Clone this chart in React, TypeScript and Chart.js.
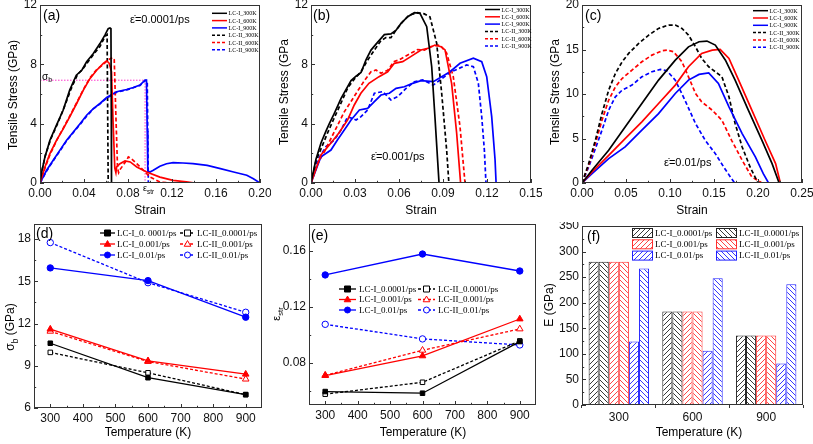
import React, { useEffect, useRef } from 'react';
import { Chart, registerables } from 'chart.js';
Chart.register(...registerables);

type P = [number, number];

// ---------- (a) strain rate 0.0001/ps : [strain, stress GPa]
const a_LCI_300K: P[] = [[0,0],[0.0015,0.74],[0.0045,1.76],[0.009,2.88],[0.015,3.9],[0.021,4.9],[0.027,6.26],[0.033,7.27],[0.038,7.6],[0.0424,8.17],[0.0485,8.73],[0.0545,9.4],[0.059,9.97],[0.062,10.4],[0.0636,10.45],[0.0645,10.4],[0.0648,5],[0.065,0]];
const a_LCI_600K: P[] = [[0,0],[0.0045,1.08],[0.009,1.98],[0.015,2.88],[0.0212,3.67],[0.027,4.46],[0.0333,5.36],[0.0394,6.26],[0.0455,7.05],[0.0515,7.6],[0.0576,8.06],[0.0606,8.24],[0.063,8.06],[0.065,7.5],[0.0665,4],[0.068,1.0],[0.069,0.7],[0.0697,1.08],[0.0727,1.3],[0.0773,1.49],[0.082,1.42],[0.088,1.08],[0.097,0.74],[0.109,0.4],[0.121,0.18],[0.133,0.07],[0.141,0]];
const a_LCI_900K: P[] = [[0,0],[0.006,0.86],[0.012,1.53],[0.018,2.2],[0.0242,2.88],[0.0303,3.44],[0.0364,4.0],[0.0424,4.57],[0.0485,5.02],[0.0545,5.36],[0.0606,5.76],[0.0697,6.15],[0.0788,6.3],[0.0848,6.44],[0.0909,6.6],[0.0955,6.93],[0.0968,6.93],[0.0975,3.5],[0.098,0.8],[0.1,0.74],[0.103,0.86],[0.109,1.13],[0.115,1.3],[0.121,1.37],[0.13,1.35],[0.139,1.3],[0.152,1.19],[0.164,0.97],[0.176,0.74],[0.188,0.52],[0.194,0.29],[0.2,0]];
const a_LCII_300K: P[] = [[0,0],[0.002,0.9],[0.005,1.9],[0.01,3.0],[0.016,4.0],[0.022,5.1],[0.028,6.3],[0.034,7.3],[0.039,7.7],[0.044,8.2],[0.049,8.7],[0.0545,9.2],[0.059,9.86],[0.061,10.0],[0.0615,5],[0.062,0]];
const a_LCII_600K: P[] = [[0,0],[0.0045,1.0],[0.009,1.9],[0.015,2.85],[0.0212,3.7],[0.027,4.5],[0.0333,5.4],[0.0394,6.3],[0.0455,7.1],[0.0515,7.65],[0.0576,8.0],[0.062,8.3],[0.066,8.46],[0.0675,8.3],[0.069,4.5],[0.0705,1.0],[0.0715,0.7],[0.0727,0.9],[0.0788,1.53],[0.0803,1.76],[0.083,1.64],[0.088,1.3],[0.094,0.86],[0.1,0.4],[0.109,0.07],[0.118,0]];
const a_LCII_900K: P[] = [[0,0],[0.006,0.8],[0.012,1.5],[0.018,2.15],[0.0242,2.85],[0.0303,3.4],[0.0364,3.95],[0.0424,4.5],[0.0485,5.0],[0.0545,5.33],[0.0606,5.73],[0.0697,6.12],[0.0788,6.28],[0.0848,6.42],[0.0909,6.58],[0.0955,6.9],[0.0975,6.9],[0.098,3],[0.0985,0]];
const a_sigmaB = 6.93;
const a_epsStr = 0.0955;

// ---------- (b) strain rate 0.001/ps
const b_LCI_300K: P[] = [[0,0],[0.0034,1.6],[0.0068,2.7],[0.0102,3.5],[0.0125,4.0],[0.0159,4.7],[0.0205,5.7],[0.0273,6.9],[0.0307,7.2],[0.0341,7.45],[0.0375,8.3],[0.0409,8.96],[0.0455,9.5],[0.05,10.0],[0.0545,10.05],[0.058,10.3],[0.0614,10.76],[0.0659,11.21],[0.0705,11.48],[0.0743,11.44],[0.0789,10.54],[0.0823,7.84],[0.0845,4.47],[0.0873,0]];
const b_LCI_600K: P[] = [[0,0],[0.0068,1.89],[0.0136,2.7],[0.019,3.37],[0.025,4.25],[0.0295,5.26],[0.034,6.05],[0.0395,6.72],[0.0464,7.17],[0.0523,7.5],[0.0568,8.07],[0.0625,8.18],[0.068,8.52],[0.075,8.97],[0.0805,9.1],[0.0845,9.3],[0.0886,9.19],[0.0914,8.97],[0.0959,6.7],[0.0993,3.37],[0.102,0]];
const b_LCI_900K: P[] = [[0,0],[0.0034,0.9],[0.0068,1.77],[0.0136,2.22],[0.018,2.9],[0.0227,3.57],[0.0273,4.25],[0.033,4.92],[0.0386,5.03],[0.0432,5.48],[0.0477,5.93],[0.0534,6.05],[0.058,6.38],[0.0636,6.49],[0.0693,6.72],[0.075,6.9],[0.0834,6.83],[0.0948,7.5],[0.1016,8.07],[0.1107,8.41],[0.1164,8.18],[0.1198,7.17],[0.1232,4.47],[0.1255,1.55],[0.1262,0]];
const b_LCII_300K: P[] = [[0,0],[0.0034,1.5],[0.0068,2.3],[0.0114,3.4],[0.0159,4.4],[0.0205,5.4],[0.025,6.4],[0.0295,7.0],[0.0341,7.5],[0.0386,8.28],[0.0432,8.96],[0.0477,9.6],[0.0511,9.8],[0.0545,9.8],[0.058,10.31],[0.0625,10.87],[0.067,11.32],[0.0727,11.48],[0.0773,11.4],[0.0811,11.2],[0.0857,9.42],[0.0891,6.05],[0.0925,2.2],[0.094,0]];
const b_LCII_600K: P[] = [[0,0],[0.0045,1.3],[0.0091,2.1],[0.0136,3.0],[0.0182,3.9],[0.0227,4.8],[0.0273,5.5],[0.0318,6.2],[0.0364,6.9],[0.0409,7.5],[0.0443,7.62],[0.0477,7.4],[0.0523,7.6],[0.0568,8.2],[0.06,8.3],[0.0682,8.75],[0.0727,9.0],[0.0773,8.96],[0.0818,9.2],[0.088,9.3],[0.0925,8.76],[0.097,7.17],[0.1016,3.8],[0.105,0]];
const b_LCII_900K: P[] = [[0,0],[0.0045,1.55],[0.0102,2.45],[0.0159,2.9],[0.0205,3.57],[0.025,4.47],[0.0307,4.25],[0.0341,4.47],[0.0386,4.92],[0.0432,6.05],[0.0489,6.16],[0.0545,5.6],[0.0591,5.82],[0.0648,6.38],[0.0705,6.83],[0.0761,6.95],[0.0834,6.6],[0.0948,7.45],[0.1061,7.96],[0.1107,7.84],[0.1141,6.72],[0.1164,4.47],[0.1182,2.22],[0.1193,0]];

// ---------- (c) strain rate 0.01/ps
const c_LCI_300K: P[] = [[0,0],[0.0114,1.43],[0.0303,3.68],[0.049,6.3],[0.068,8.93],[0.087,11.56],[0.106,13.8],[0.121,15.3],[0.133,15.87],[0.142,15.95],[0.1515,15.5],[0.163,13.8],[0.174,11.56],[0.189,8.18],[0.2045,4.8],[0.216,2.18],[0.224,0]];
const c_LCI_600K: P[] = [[0,0],[0.0114,1.24],[0.0303,3.1],[0.049,4.99],[0.068,6.87],[0.087,8.93],[0.106,11.0],[0.121,13.06],[0.136,14.56],[0.148,14.93],[0.157,15.0],[0.167,14.0],[0.178,11.56],[0.193,8.18],[0.208,4.8],[0.22,2.18],[0.2254,0]];
const c_LCI_900K: P[] = [[0,0],[0.0114,1.05],[0.0303,2.74],[0.049,4.05],[0.068,5.93],[0.087,7.8],[0.106,10.06],[0.121,11.56],[0.133,12.2],[0.144,12.38],[0.155,11.18],[0.167,8.56],[0.182,5.55],[0.197,2.93],[0.206,1.05],[0.212,0]];
const c_LCII_300K: P[] = [[0,0],[0.0076,2.18],[0.0152,4.8],[0.0227,7.8],[0.0303,10.43],[0.0379,12.3],[0.0455,13.6],[0.053,14.56],[0.0644,15.68],[0.0758,16.62],[0.087,17.37],[0.0985,17.75],[0.106,17.75],[0.1136,17.37],[0.121,16.62],[0.129,15.3],[0.136,14.0],[0.144,13.06],[0.1515,12.5],[0.159,11.93],[0.167,9.68],[0.174,6.68],[0.182,4.05],[0.191,1.8],[0.2,0]];
const c_LCII_600K: P[] = [[0,0],[0.0076,2.0],[0.0152,4.43],[0.0227,7.05],[0.0303,9.3],[0.0379,10.8],[0.0455,11.74],[0.0568,12.68],[0.068,13.62],[0.0795,14.37],[0.091,14.86],[0.0966,14.93],[0.104,14.75],[0.1136,13.62],[0.121,11.93],[0.129,10.06],[0.136,9.12],[0.148,8.18],[0.159,7.05],[0.17,4.8],[0.182,2.55],[0.193,0.68],[0.2045,0]];
const c_LCII_900K: P[] = [[0,0],[0.0076,1.8],[0.0152,3.86],[0.0227,5.93],[0.0303,8.18],[0.0379,9.68],[0.0455,10.43],[0.0568,11.0],[0.068,11.93],[0.0795,12.5],[0.089,12.76],[0.0966,12.6],[0.106,11.56],[0.117,9.3],[0.129,6.68],[0.14,4.8],[0.1515,3.3],[0.161,1.8],[0.1686,0.68],[0.1735,0]];

// ---------- (d) sigma_b vs temperature
const temperatures = [300, 600, 900];
const sigB_LCI_00001 = [10.6, 8.15, 6.95];
const sigB_LCII_00001 = [9.95, 8.5, 6.95];
const sigB_LCI_0001 = [11.6, 9.35, 8.4];
const sigB_LCII_0001 = [11.45, 9.3, 8.05];
const sigB_LCI_001 = [15.95, 15.05, 12.45];
const sigB_LCII_001 = [17.75, 14.9, 12.8];

// ---------- (e) eps_str vs temperature
const eps_LCI_00001 = [0.0596, 0.0584, 0.0952];
const eps_LCII_00001 = [0.0577, 0.0662, 0.0957];
const eps_LCI_0001 = [0.071, 0.085, 0.1113];
const eps_LCII_0001 = [0.0712, 0.089, 0.1042];
const eps_LCI_001 = [0.1427, 0.1576, 0.1455];
const eps_LCII_001 = [0.1075, 0.0971, 0.0928];

// ---------- (f) E vs temperature
const E_categories = ['300', '600', '900'];
const E_LCI_00001 = [280, 183, 136];
const E_LCII_00001 = [280, 183, 136];
const E_LCI_0001 = [280, 183, 136];
const E_LCII_0001 = [280, 183, 136];
const E_LCI_001 = [124, 106, 81];
const E_LCII_001 = [267, 248, 236];

// tick values
const ticksA_x = [0, 0.04, 0.08, 0.12, 0.16, 0.2];
const ticksB_x = [0, 0.03, 0.06, 0.09, 0.12, 0.15];
const ticksC_x = [0, 0.05, 0.1, 0.15, 0.2, 0.25];
const ticksAB_y = [0, 4, 8, 12];
const ticksC_y = [0, 5, 10, 15, 20];
const ticksT = [300, 400, 500, 600, 700, 800, 900];
const ticksD_y = [6, 9, 12, 15, 18];
const ticksE_y = [0.08, 0.12, 0.16];
const ticksF_y = [0, 50, 100, 150, 200, 250, 300, 350];

const curveLabels = ['LC-I_300K', 'LC-I_600K', 'LC-I_900K', 'LC-II_300K', 'LC-II_600K', 'LC-II_900K'];
const rateLabelsD = ['LC-I_0. 0001/ps', 'LC-II_0.0001/ps', 'LC-I_0.001/ps', 'LC-II_0.001/ps', 'LC-I_0.01/ps', 'LC-II_0.01/ps'];
const rateLabels = ['LC-I_0.0001/ps', 'LC-II_0.0001/ps', 'LC-I_0.001/ps', 'LC-II_0.001/ps', 'LC-I_0.01/ps', 'LC-II_0.01/ps'];

const BLACK = '#000000';
const RED = '#ff0000';
const BLUE = '#0000ff';
const SANS = '"Liberation Sans", Arial, sans-serif';
const SERIF = '"Liberation Serif", "Times New Roman", serif';
const W = 271;
const H = 222;
const DASH = [4, 2.5];
const TICK_FONT = 12;

function txt(ctx: CanvasRenderingContext2D, s: string, x: number, y: number, size: number, o: any = {}) {
  ctx.save();
  ctx.font = `${size}px ${o.family || SANS}`;
  ctx.fillStyle = o.color || '#000';
  ctx.textAlign = o.align || 'left';
  ctx.textBaseline = 'middle';
  ctx.translate(x, y);
  if (o.rotate) ctx.rotate(o.rotate);
  ctx.fillText(s, 0, 0);
  ctx.restore();
}

function rich(ctx: CanvasRenderingContext2D, segs: { t: string; sub?: boolean }[], x: number, y: number, size: number, rotate = 0, align = 'center') {
  ctx.save();
  ctx.translate(x, y);
  ctx.rotate(rotate);
  const sub = size * 0.7;
  let total = 0;
  const ws = segs.map((s) => {
    ctx.font = `${s.sub ? sub : size}px ${SANS}`;
    const w = ctx.measureText(s.t).width;
    total += w;
    return w;
  });
  let cx = align === 'center' ? -total / 2 : 0;
  ctx.textAlign = 'left';
  ctx.textBaseline = 'alphabetic';
  ctx.fillStyle = '#000';
  segs.forEach((s, i) => {
    ctx.font = `${s.sub ? sub : size}px ${SANS}`;
    ctx.fillText(s.t, cx, size * 0.36 + (s.sub ? size * 0.28 : 0));
    cx += ws[i];
  });
  ctx.restore();
}

function innerTicks(ctx: CanvasRenderingContext2D, scale: any, horizontal: boolean, a: any) {
  const vals: number[] = scale.ticks.map((t: any) => t.value);
  const marks: [number, number][] = [];
  vals.forEach((v) => marks.push([v, 4]));
  for (let i = 0; i < vals.length - 1; i++) marks.push([(vals[i] + vals[i + 1]) / 2, 2.2]);
  if (vals.length > 1) {
    const step = vals[1] - vals[0];
    const lo = vals[0] - step / 2;
    const hi = vals[vals.length - 1] + step / 2;
    if (lo > scale.min) marks.push([lo, 2.2]);
    if (hi < scale.max) marks.push([hi, 2.2]);
  }
  ctx.beginPath();
  marks.forEach(([v, len]) => {
    const p = Math.round(scale.getPixelForValue(v)) + 0.5;
    if (horizontal) {
      ctx.moveTo(p, a.bottom);
      ctx.lineTo(p, a.bottom - len);
    } else {
      ctx.moveTo(a.left, p);
      ctx.lineTo(a.left + len, p);
    }
  });
  ctx.stroke();
}

function frame(chart: any, xInner = true) {
  const { ctx, chartArea: a } = chart;
  ctx.save();
  ctx.strokeStyle = '#333';
  ctx.lineWidth = 1;
  ctx.strokeRect(Math.round(a.left) + 0.5, Math.round(a.top) + 0.5, Math.round(a.right - a.left) - 1, Math.round(a.bottom - a.top) - 1);
  if (xInner) innerTicks(ctx, chart.scales.x, true, a);
  innerTicks(ctx, chart.scales.y, false, a);
  ctx.restore();
}

function marker(ctx: CanvasRenderingContext2D, style: string, x: number, y: number, r: number, color: string, filled: boolean) {
  ctx.save();
  ctx.beginPath();
  if (style === 'rect') ctx.rect(x - r, y - r, 2 * r, 2 * r);
  else if (style === 'triangle') {
    ctx.moveTo(x, y - r * 1.15);
    ctx.lineTo(x + r * 1.1, y + r * 0.75);
    ctx.lineTo(x - r * 1.1, y + r * 0.75);
    ctx.closePath();
  } else ctx.arc(x, y, r, 0, Math.PI * 2);
  ctx.fillStyle = filled ? color : '#fff';
  ctx.fill();
  ctx.strokeStyle = color;
  ctx.lineWidth = 1;
  ctx.stroke();
  ctx.restore();
}

type LegItem = { label: string; color: string; dash?: number[]; marker?: string; filled?: boolean; pattern?: any };
function legend(ctx: CanvasRenderingContext2D, items: LegItem[], o: { x: number; y: number; cols: number; colW: number; rowH: number; sample: number; gap: number; size: number; lw?: number }) {
  items.forEach((it, i) => {
    const col = i % o.cols;
    const row = Math.floor(i / o.cols);
    const x = o.x + col * o.colW;
    const y = o.y + row * o.rowH;
    ctx.save();
    if (it.pattern) {
      ctx.fillStyle = it.pattern;
      ctx.fillRect(x, y - 4.5, o.sample, 9);
      ctx.strokeStyle = it.color;
      ctx.lineWidth = 1;
      ctx.strokeRect(x + 0.5, y - 4.5, o.sample, 9);
    } else {
      ctx.strokeStyle = it.color;
      ctx.lineWidth = o.lw || 1.5;
      ctx.setLineDash(it.dash || []);
      ctx.beginPath();
      ctx.moveTo(x, y);
      ctx.lineTo(x + o.sample, y);
      ctx.stroke();
      ctx.setLineDash([]);
      if (it.marker) marker(ctx, it.marker, x + o.sample / 2, y, 3, it.color, !!it.filled);
    }
    ctx.restore();
    txt(ctx, it.label, x + o.sample + o.gap, y + 0.5, o.size, { family: SERIF });
  });
}

function linScale(min: number, max: number, ticks: number[], dec: number, fit: (s: any) => void) {
  return {
    type: 'linear',
    min,
    max,
    afterBuildTicks: (s: any) => {
      s.ticks = ticks.map((v) => ({ value: v }));
    },
    ticks: { font: { family: SANS, size: TICK_FONT }, color: '#111', padding: 3, maxRotation: 0, autoSkip: false, callback: (v: any) => Number(v).toFixed(dec) },
    grid: { display: false, drawOnChartArea: false, drawTicks: false },
    border: { display: false },
    title: { display: false },
    afterFit: fit,
  };
}

function fitY(w: number) {
  return (s: any) => {
    s.width = w;
    s.paddingTop = 0;
    s.paddingBottom = 0;
  };
}
function fitX(h: number) {
  return (s: any) => {
    s.height = h;
    s.paddingLeft = 0;
    s.paddingRight = 0;
  };
}

function strainChart(series: P[][], xMax: number, xTicks: number[], yMax: number, yTicks: number[], extra: (chart: any) => void, legendY: number, legendX: number): any {
  const colors = [BLACK, RED, BLUE, BLACK, RED, BLUE];
  const datasets: any[] = series.map((s, i) => ({
    label: curveLabels[i],
    data: s.map(([x, y]) => ({ x, y })),
    borderColor: colors[i],
    borderWidth: 1.7,
    borderDash: i >= 3 ? DASH : [],
    pointRadius: 0,
    tension: 0,
    fill: false,
  }));
  return {
    type: 'line',
    data: { datasets },
    options: {
      animation: false,
      responsive: false,
      events: [],
      layout: { autoPadding: false, padding: { left: 0, top: 5, right: 11, bottom: 0 } },
      plugins: { legend: { display: false }, tooltip: { enabled: false } },
      scales: {
        x: linScale(0, xMax, xTicks, 2, fitX(39)),
        y: linScale(0, yMax, yTicks, 0, fitY(40)),
      },
    },
    plugins: [
      {
        id: 'deco',
        afterDraw: (chart: any) => {
          const ctx = chart.ctx;
          frame(chart);
          txt(ctx, 'Strain', 150, 211, 12, { align: 'center' });
          extra(chart);
          legend(
            ctx,
            curveLabels.map((l, i) => ({ label: l, color: colors[i], dash: i >= 3 ? [3, 2] : [] })),
            { x: legendX, y: legendY, cols: 1, colW: 0, rowH: 7.3, sample: 15, gap: 1.5, size: 6 }
          );
        },
      },
    ],
  };
}

function makeHatch(color: string, dir: number): any {
  const s = 5;
  const c = document.createElement('canvas');
  c.width = s;
  c.height = s;
  const g = c.getContext('2d')!;
  g.fillStyle = '#fff';
  g.fillRect(0, 0, s, s);
  g.strokeStyle = color;
  g.lineWidth = 0.9;
  g.beginPath();
  if (dir > 0) {
    g.moveTo(-1, s + 1); g.lineTo(s + 1, -1);
    g.moveTo(-1, 1); g.lineTo(1, -1);
    g.moveTo(s - 1, s + 1); g.lineTo(s + 1, s - 1);
  } else {
    g.moveTo(-1, -1); g.lineTo(s + 1, s + 1);
    g.moveTo(-1, s - 1); g.lineTo(1, s + 1);
    g.moveTo(s - 1, -1); g.lineTo(s + 1, 1);
  }
  g.stroke();
  return g.createPattern(c, 'repeat');
}

function tempChart(sets: number[][], yMin: number, yMax: number, yTicks: number[], dec: number, labels: string[], extra: (chart: any) => void, leg: any, fitLeft: number, padTop: number, padRight: number, xh: number): any {
  const colors = [BLACK, BLACK, RED, RED, BLUE, BLUE];
  const styles = ['rect', 'rect', 'triangle', 'triangle', 'circle', 'circle'];
  const datasets: any[] = sets.map((s, i) => ({
    label: labels[i],
    data: s.map((v, j) => ({ x: temperatures[j], y: v })),
    borderColor: colors[i],
    backgroundColor: i % 2 === 0 ? colors[i] : '#ffffff',
    borderWidth: 1.3,
    borderDash: i % 2 === 1 ? [3, 2] : [],
    pointStyle: styles[i],
    pointRadius: styles[i] === 'triangle' ? 3.8 : 3.2,
    pointBorderWidth: 1,
    pointBackgroundColor: i % 2 === 0 ? colors[i] : '#ffffff',
    pointBorderColor: colors[i],
    tension: 0,
    fill: false,
  }));
  return {
    type: 'line',
    data: { datasets },
    options: {
      animation: false,
      responsive: false,
      events: [],
      layout: { autoPadding: false, padding: { left: 0, top: padTop, right: padRight, bottom: 0 } },
      plugins: { legend: { display: false }, tooltip: { enabled: false } },
      scales: {
        x: linScale(250, 950, ticksT, 0, fitX(xh)),
        y: linScale(yMin, yMax, yTicks, dec, fitY(fitLeft)),
      },
    },
    plugins: [
      {
        id: 'deco',
        afterDraw: (chart: any) => {
          const ctx = chart.ctx;
          frame(chart);
          extra(chart);
          legend(
            ctx,
            labels.map((l, i) => ({ label: l, color: colors[i], dash: i % 2 === 1 ? [3, 2] : [], marker: styles[i], filled: i % 2 === 0 })),
            leg
          );
        },
      },
    ],
  };
}

function Panel({ left, top, build }: { left: number; top: number; build: () => any }) {
  const ref = useRef<HTMLCanvasElement>(null);
  useEffect(() => {
    const chart = new Chart(ref.current as HTMLCanvasElement, build());
    return () => chart.destroy();
  }, []);
  return <canvas ref={ref} width={W} height={H} style={{ position: 'absolute', left, top, width: W, height: H }} />;
}

const buildA = () => {
  const cfg = strainChart(
    [a_LCI_300K, a_LCI_600K, a_LCI_900K, a_LCII_300K, a_LCII_600K, a_LCII_900K],
    0.2, ticksA_x, 12, ticksAB_y,
    (chart: any) => {
      const ctx = chart.ctx;
      txt(ctx, '(a)', 43, 16, 14);
      txt(ctx, 'ε\u0307=0.0001/ps', 130, 20, 11);
      txt(ctx, 'Tensile Stress (GPa)', 14, 95, 12, { align: 'center', rotate: -Math.PI / 2 });
      rich(ctx, [{ t: 'σ' }, { t: 'b', sub: true }], 42, 76, 10, 0, 'left');
      rich(ctx, [{ t: 'ε' }, { t: 'str', sub: true }], 143, 188, 9, 0, 'left');
    },
    13.3, 212
  );
  cfg.data.datasets.push({
    label: 'guide',
    data: [{ x: 0, y: a_sigmaB }, { x: a_epsStr, y: a_sigmaB }, { x: a_epsStr, y: 0 }],
    borderColor: '#ff33cc',
    borderWidth: 1,
    borderDash: [1.5, 1.5],
    pointRadius: 0,
    tension: 0,
    fill: false,
  });
  return cfg;
};

const buildB = () =>
  strainChart(
    [b_LCI_300K, b_LCI_600K, b_LCI_900K, b_LCII_300K, b_LCII_600K, b_LCII_900K],
    0.15, ticksB_x, 12, ticksAB_y,
    (chart: any) => {
      const ctx = chart.ctx;
      txt(ctx, '(b)', 42, 16, 14);
      txt(ctx, 'ε\u0307=0.001/ps', 100, 157, 11);
      txt(ctx, 'Tensile Stress (GPa', 14, 92, 12, { align: 'center', rotate: -Math.PI / 2 });
    },
    9.5, 214
  );

const buildC = () =>
  strainChart(
    [c_LCI_300K, c_LCI_600K, c_LCI_900K, c_LCII_300K, c_LCII_600K, c_LCII_900K],
    0.25, ticksC_x, 20, ticksC_y,
    (chart: any) => {
      const ctx = chart.ctx;
      txt(ctx, '(c)', 43, 16, 14);
      txt(ctx, 'ε\u0307=0.01/ps', 122, 163, 11);
      txt(ctx, 'Tensile Stress (GPa', 14, 92, 12, { align: 'center', rotate: -Math.PI / 2 });
    },
    10.7, 211
  );

const buildD = () =>
  tempChart(
    [sigB_LCI_00001, sigB_LCII_00001, sigB_LCI_0001, sigB_LCII_0001, sigB_LCI_001, sigB_LCII_001],
    6, 19.07, ticksD_y, 0, rateLabelsD,
    (chart: any) => {
      const ctx = chart.ctx;
      txt(ctx, '(d)', 36, 12, 14);
      txt(ctx, 'Temperature (K)', 148, 211, 12, { align: 'center' });
      rich(ctx, [{ t: 'σ' }, { t: 'b', sub: true }, { t: ' (GPa)' }], 10, 105, 12, -Math.PI / 2);
    },
    { x: 100, y: 11, cols: 2, colW: 80, rowH: 11, sample: 15, gap: 2, size: 9, lw: 1.3 },
    34, 2, 9, 36
  );

const buildE = () =>
  tempChart(
    [eps_LCI_00001, eps_LCII_00001, eps_LCI_0001, eps_LCII_0001, eps_LCI_001, eps_LCII_001],
    0.05, 0.179, ticksE_y, 2, rateLabels,
    (chart: any) => {
      const ctx = chart.ctx;
      txt(ctx, '(e)', 40, 14, 14);
      txt(ctx, 'Temperature (K)', 152, 211, 12, { align: 'center' });
      rich(ctx, [{ t: 'ε' }, { t: 'str', sub: true }], 5, 92, 11, -Math.PI / 2);
    },
    { x: 68, y: 67, cols: 2, colW: 79, rowH: 10.5, sample: 17, gap: 3, size: 9, lw: 1.3 },
    38, 2, 6, 39
  );

const buildF = () => {
  const colors = ['#222222', '#222222', '#ff3030', '#ff3030', '#2020ff', '#2020ff'];
  const vals = [E_LCI_00001, E_LCII_00001, E_LCI_0001, E_LCII_0001, E_LCI_001, E_LCII_001];
  const pats = colors.map((c, i) => makeHatch(c, i % 2 === 0 ? 1 : -1));
  return {
    type: 'bar',
    data: {
      labels: E_categories,
      datasets: vals.map((v, i) => ({
        label: rateLabels[i],
        data: v,
        backgroundColor: pats[i],
        borderColor: colors[i],
        borderWidth: 1,
        categoryPercentage: 0.82,
        barPercentage: 1,
      })),
    },
    options: {
      animation: false,
      responsive: false,
      events: [],
      layout: { autoPadding: false, padding: { left: 0, top: 4, right: 10, bottom: 0 } },
      plugins: { legend: { display: false }, tooltip: { enabled: false } },
      scales: {
        x: {
          type: 'category',
          ticks: { font: { family: SANS, size: TICK_FONT }, color: '#111', padding: 2 },
          grid: { display: true, drawOnChartArea: false, drawTicks: true, tickLength: 3, color: '#333' },
          border: { display: false },
          afterFit: fitX(39),
        },
        y: linScale(0, 350, ticksF_y, 0, fitY(40)),
      },
    },
    plugins: [
      {
        id: 'deco',
        afterDraw: (chart: any) => {
          const ctx = chart.ctx;
          frame(chart, false);
          txt(ctx, '(f)', 45, 15, 14);
          txt(ctx, 'Temperature (K)', 157, 211, 12, { align: 'center' });
          txt(ctx, 'E (GPa)', 8, 83, 12, { align: 'center', rotate: -Math.PI / 2 });
          legend(
            ctx,
            rateLabels.map((l, i) => ({ label: l, color: colors[i], pattern: pats[i] })),
            { x: 90, y: 11, cols: 2, colW: 84, rowH: 11.3, sample: 20, gap: 3, size: 9 }
          );
        },
      },
    ],
  };
};

export default function App() {
  return (
    <div style={{ position: 'absolute', left: 0, top: 0, width: 813, height: 444, background: '#fff', overflow: 'hidden' }}>
      <Panel left={0} top={0} build={buildA} />
      <Panel left={271} top={0} build={buildB} />
      <Panel left={542} top={0} build={buildC} />
      <Panel left={0} top={222} build={buildD} />
      <Panel left={271} top={222} build={buildE} />
      <Panel left={542} top={222} build={buildF} />
    </div>
  );
}
